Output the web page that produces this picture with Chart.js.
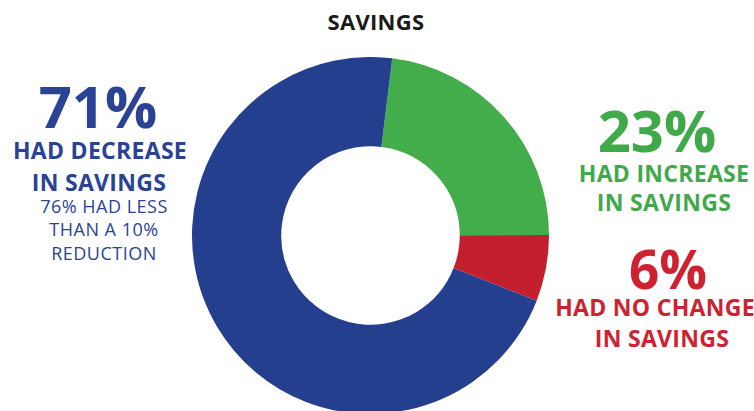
<!DOCTYPE html>
<html>
<head>
<meta charset="utf-8">
<script src="https://cdn.jsdelivr.net/npm/chart.js@4"></script>
<style>
  html, body { margin: 0; padding: 0; background: #fff; }
  body { width: 754px; height: 411px; overflow: hidden; position: relative; font-family: "Open Sans", sans-serif; }
  #wrap { position: absolute; left: 192px; top: 57px; width: 357px; height: 357px; }
  .t { position: absolute; text-align: center; line-height: 1; white-space: nowrap; font-weight: 700; }
  .big { font-size: 58px; }
  .mid { font-size: 23px; letter-spacing: 0.3px; }
  .small { font-size: 18px; font-weight: 400; letter-spacing: 0.5px; }
  .blue { color: #2a4394; }
  .green { color: #40a94a; }
  .red { color: #cf2230; }
</style>
</head>
<body>
<div class="t" style="left:276px;width:200px;top:10px;font-size:22px;letter-spacing:0.3px;color:#1a1a1a;">SAVINGS</div>

<div class="t big blue" style="left:0;width:196px;top:77px;">71%</div>
<div class="t mid blue" style="left:0;width:200px;top:139px;">HAD DECREASE</div>
<div class="t mid blue" style="left:0;width:198px;top:171px;">IN SAVINGS</div>
<div class="t small blue" style="left:0;width:208px;top:197px;">76% HAD LESS</div>
<div class="t small blue" style="left:0;width:208px;top:220px;">THAN A 10%</div>
<div class="t small blue" style="left:0;width:208px;top:244px;">REDUCTION</div>

<div class="t big green" style="left:557px;width:200px;top:101px;">23%</div>
<div class="t mid green" style="left:564px;width:200px;top:162px;">HAD INCREASE</div>
<div class="t mid green" style="left:564px;width:200px;top:191px;">IN SAVINGS</div>
<div class="t red" style="left:568px;width:200px;top:242px;font-size:53px;">6%</div>
<div class="t mid red" style="left:555px;width:200px;top:296px;">HAD NO CHANGE</div>
<div class="t mid red" style="left:562px;width:200px;top:327px;">IN SAVINGS</div>

<div id="wrap"><canvas id="savingsChart"></canvas></div>

<script>
const categories = ['Had increase in savings', 'Had no change in savings', 'Had decrease in savings'];
const shares = [23, 6, 71];
const sliceColors = ['#44ad4b', '#c41f2e', '#253f8f'];

new Chart(document.getElementById('savingsChart'), {
  type: 'doughnut',
  data: {
    labels: categories,
    datasets: [{
      data: shares,
      backgroundColor: sliceColors,
      borderWidth: 0
    }]
  },
  options: {
    responsive: true,
    maintainAspectRatio: false,
    animation: false,
    cutout: '50%',
    rotation: 7,
    layout: { padding: 0 },
    plugins: { legend: { display: false }, tooltip: { enabled: false } }
  }
});
</script>
</body>
</html>
